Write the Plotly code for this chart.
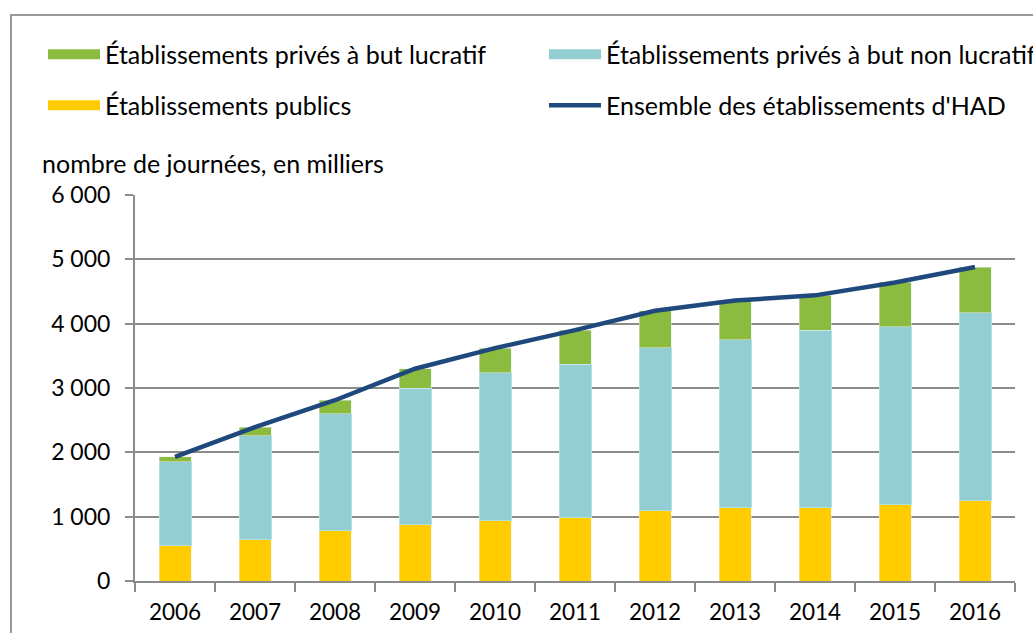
import plotly.graph_objects as go

years = ["2006", "2007", "2008", "2009", "2010", "2011", "2012", "2013", "2014", "2015", "2016"]
publics = [550, 640, 780, 880, 940, 990, 1100, 1140, 1145, 1190, 1245]
prives_non_lucratif = [1305, 1615, 1820, 2115, 2295, 2380, 2525, 2610, 2755, 2760, 2925]
prives_lucratif = [75, 135, 210, 305, 385, 530, 575, 610, 540, 690, 710]
ensemble = [1930, 2390, 2810, 3300, 3620, 3900, 4200, 4360, 4440, 4640, 4880]

name_luc = "Établissements privés à but lucratif"
name_nonluc = "Établissements privés à but non lucratif"
name_pub = "Établissements publics"
name_ens = "Ensemble des établissements d'HAD"

C_GREEN = "#8BBB3F"
C_TEAL = "#93CED2"
C_YELLOW = "#FFCC00"
C_BLUE = "#1F497D"
FONT = "Lato"

fig = go.Figure()
fig.add_trace(go.Bar(x=years, y=publics, name=name_pub, marker_color=C_YELLOW,
                     showlegend=False, legendgroup="pub"))
fig.add_trace(go.Bar(x=years, y=prives_non_lucratif, name=name_nonluc, marker_color=C_TEAL,
                     marker_line=dict(color="#b3dfe2", width=1), showlegend=False, legendgroup="nonluc"))
fig.add_trace(go.Bar(x=years, y=prives_lucratif, name=name_luc, marker_color=C_GREEN,
                     showlegend=False, legendgroup="luc"))
fig.add_trace(go.Scatter(x=years, y=ensemble, name=name_ens, mode="lines",
                         line=dict(color=C_BLUE, width=4.5), showlegend=False, legendgroup="ens"))

# legend entries (swatches)
fig.add_trace(go.Scatter(x=[None], y=[None], mode="lines", name=name_luc, legendgroup="luc",
                         line=dict(color=C_GREEN, width=15), legend="legend"))
fig.add_trace(go.Scatter(x=[None], y=[None], mode="lines", name=name_nonluc, legendgroup="nonluc",
                         line=dict(color=C_TEAL, width=15), legend="legend"))
fig.add_trace(go.Scatter(x=[None], y=[None], mode="lines", name=name_pub, legendgroup="pub",
                         line=dict(color=C_YELLOW, width=15), legend="legend2"))
fig.add_trace(go.Scatter(x=[None], y=[None], mode="lines", name=name_ens, legendgroup="ens",
                         line=dict(color=C_BLUE, width=4.5), legend="legend2"))

L, R, T, B = 135, 18, 195, 52
W, H = 1033, 633
pw, ph = W - L - R, H - T - B

def px_x(px):
    return (px - L) / pw

def px_y(py):
    return (H - B - py) / ph

legend_common = dict(orientation="h", xanchor="left", yanchor="middle",
                     font=dict(family=FONT, size=25, color="black"),
                     itemwidth=52, entrywidth=434, entrywidthmode="pixels",
                     bgcolor="rgba(0,0,0,0)", borderwidth=0, itemclick=False,
                     itemdoubleclick=False)

fig.update_layout(
    width=W, height=H,
    margin=dict(l=L, r=R, t=T, b=B, autoexpand=False),
    barmode="stack", bargap=0.6,
    plot_bgcolor="white", paper_bgcolor="white",
    separators=", ",
    font=dict(family=FONT, size=22, color="black"),
    legend=dict(x=px_x(43), y=px_y(54.5), **legend_common),
    legend2=dict(x=px_x(43), y=px_y(105.5), **legend_common),
    xaxis=dict(type="category", showline=True, linecolor="#8c8c8c", linewidth=2,
               ticks="outside", tickson="boundaries", ticklen=9, tickcolor="#8c8c8c",
               tickwidth=2, showgrid=False, ticklabelstandoff=10,
               tickfont=dict(family=FONT, size=22.5, color="black")),
    yaxis=dict(range=[0, 6000], dtick=1000, tickformat=",d", showline=True,
               linecolor="#8c8c8c", linewidth=2, ticks="outside", ticklen=8,
               tickcolor="#8c8c8c", tickwidth=2, showgrid=True, gridcolor="#8c8c8c",
               gridwidth=1.5, zeroline=False, ticklabelstandoff=10,
               tickfont=dict(family=FONT, size=23, color="black")),
    annotations=[dict(text="nombre de journées, en milliers", xref="paper", yref="paper",
                      x=px_x(40), y=px_y(163), xanchor="left", yanchor="middle",
                      showarrow=False, font=dict(family=FONT, size=25, color="black"))],
    shapes=[dict(type="rect", xref="paper", yref="paper", x0=px_x(11), y0=-0.5,
                 x1=1.2, y1=px_y(15), line=dict(color="#9a9a9a", width=2),
                 fillcolor="rgba(0,0,0,0)", layer="below")],
)

fig.write_html("out.html", config={"displayModeBar": False},
               post_script="document.body.style.margin='0';")
